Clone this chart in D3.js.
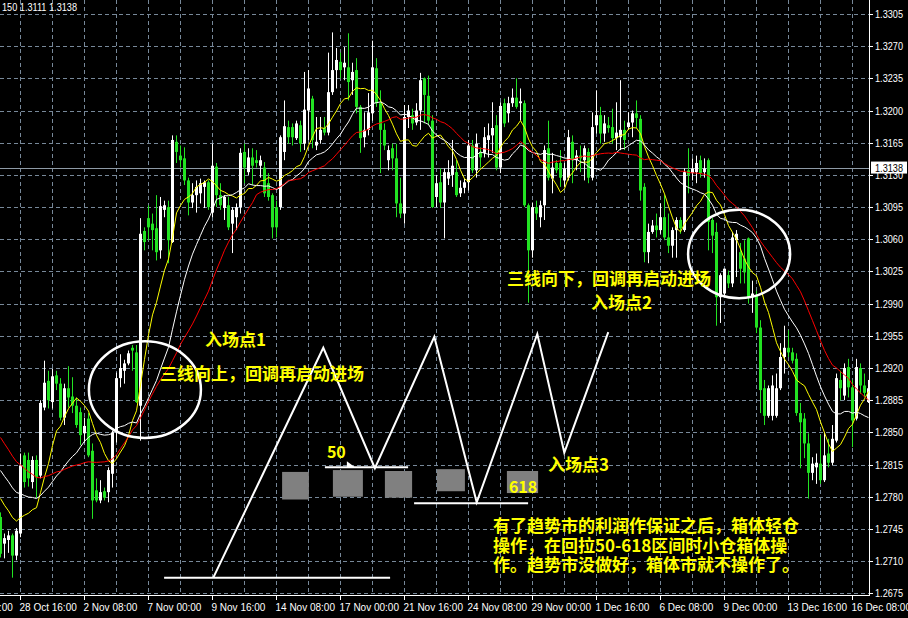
<!DOCTYPE html>
<html><head><meta charset="utf-8">
<script src="https://cdn.jsdelivr.net/npm/d3@7"></script>
<style>
html,body{margin:0;padding:0;background:#000;}
svg{display:block;}
</style></head><body>
<svg id="chart" width="908" height="618"></svg>
<script>
// ---- data (H4 bars, EURUSD-like) ----
const open = [1.2758,1.2729,1.2733,1.2738,1.2716,1.2740,1.2825,1.2820,1.2796,1.2820,
1.2803,1.2877,1.2906,1.2883,1.2912,1.2903,1.2866,1.2898,1.2889,1.2879,
1.2872,1.2849,1.2865,1.2830,1.2787,1.2776,1.2786,1.2785,1.2805,1.2850,
1.2909,1.2917,1.2925,1.2942,1.2937,1.2879,1.3069,1.3083,1.3077,1.3072,
1.3048,1.3092,1.3095,1.3057,1.3166,1.3151,1.3148,1.3124,1.3100,1.3108,
1.3110,1.3117,1.3122,1.3089,1.3139,1.3108,1.3094,1.3097,1.3077,1.3084,
1.3095,1.3155,1.3133,1.3149,1.3146,1.3140,1.3138,1.3121,1.3108,1.3095,
1.3095,1.3155,1.3182,1.3182,1.3170,1.3184,1.3164,1.3200,1.3213,1.3162,
1.3168,1.3181,1.3176,1.3220,1.3244,1.3253,1.3247,1.3247,1.3233,1.3244,
1.3204,1.3171,1.3179,1.3197,1.3246,1.3208,1.3179,1.3146,1.3159,1.3148,
1.3099,1.3088,1.3193,1.3195,1.3187,1.3200,1.3235,1.3216,1.3189,1.3106,
1.3122,1.3100,1.3126,1.3130,1.3133,1.3110,1.3116,1.3122,1.3162,1.3135,
1.3155,1.3154,1.3168,1.3173,1.3184,1.3138,1.3208,1.3197,1.3208,1.3214,
1.3208,1.3208,1.3097,1.3048,1.3095,1.3084,1.3097,1.3159,1.3126,1.3143,
1.3143,1.3124,1.3127,1.3166,1.3146,1.3151,1.3146,1.3155,1.3127,1.3184,
1.3195,1.3175,1.3184,1.3182,1.3170,1.3171,1.3179,1.3182,1.3187,1.3197,
1.3191,1.3117,1.3046,1.3068,1.3075,1.3070,1.3084,1.3062,1.3053,1.3070,
1.3081,1.3070,1.3135,1.3132,1.3133,1.3146,1.3133,1.3146,1.3081,1.3068,
1.2997,1.3001,1.3021,1.3012,1.3059,1.3046,1.3039,1.3061,1.2997,1.2999,
1.2964,1.2898,1.2868,1.2868,1.2868,1.2898,1.2932,1.2942,1.2937,1.2930,
1.2871,1.2865,1.2838,1.2806,1.2812,1.2816,1.2798,1.2827,1.2817,1.2841,
1.2907,1.2890,1.2921,1.2899,1.2865,1.2920,1.2901,1.2883];
const high = [1.2763,1.2740,1.2743,1.2740,1.2746,1.2827,1.2828,1.2828,1.2824,1.2825,
1.2885,1.2928,1.2917,1.2919,1.2917,1.2909,1.2903,1.2922,1.2910,1.2888,
1.2877,1.2866,1.2871,1.2838,1.2800,1.2798,1.2790,1.2812,1.2852,1.2915,
1.2935,1.2929,1.2939,1.2945,1.2945,1.3083,1.3073,1.3097,1.3088,1.3108,
1.3106,1.3102,1.3102,1.3173,1.3173,1.3162,1.3160,1.3127,1.3121,1.3124,
1.3126,1.3124,1.3124,1.3164,1.3143,1.3121,1.3108,1.3106,1.3095,1.3099,
1.3159,1.3164,1.3159,1.3159,1.3157,1.3151,1.3144,1.3132,1.3110,1.3102,
1.3173,1.3211,1.3189,1.3186,1.3189,1.3189,1.3242,1.3244,1.3216,1.3193,
1.3193,1.3193,1.3263,1.3285,1.3268,1.3263,1.3269,1.3284,1.3252,1.3257,
1.3206,1.3198,1.3219,1.3276,1.3257,1.3222,1.3186,1.3162,1.3164,1.3164,
1.3127,1.3206,1.3206,1.3202,1.3208,1.3241,1.3236,1.3238,1.3195,1.3130,
1.3137,1.3137,1.3146,1.3168,1.3146,1.3124,1.3126,1.3168,1.3168,1.3175,
1.3160,1.3182,1.3186,1.3209,1.3195,1.3209,1.3213,1.3215,1.3224,1.3235,
1.3224,1.3211,1.3099,1.3100,1.3102,1.3102,1.3162,1.3189,1.3154,1.3146,
1.3157,1.3143,1.3179,1.3173,1.3157,1.3162,1.3162,1.3159,1.3198,1.3222,
1.3204,1.3195,1.3193,1.3202,1.3209,1.3233,1.3189,1.3198,1.3200,1.3211,
1.3195,1.3121,1.3077,1.3081,1.3088,1.3099,1.3108,1.3088,1.3073,1.3084,
1.3084,1.3137,1.3159,1.3148,1.3151,1.3151,1.3148,1.3148,1.3083,1.3078,
1.3023,1.3028,1.3026,1.3068,1.3070,1.3056,1.3059,1.3062,1.3015,1.3004,
1.2972,1.2907,1.2901,1.2912,1.2914,1.2947,1.2966,1.2961,1.2942,1.2936,
1.2882,1.2871,1.2849,1.2823,1.2827,1.2847,1.2850,1.2843,1.2858,1.2914,
1.2917,1.2925,1.2930,1.2907,1.2930,1.2925,1.2914,1.2907];
const low = [1.2714,1.2713,1.2719,1.2692,1.2711,1.2736,1.2790,1.2791,1.2789,1.2779,
1.2800,1.2874,1.2876,1.2876,1.2896,1.2863,1.2858,1.2877,1.2871,1.2855,
1.2836,1.2839,1.2823,1.2756,1.2774,1.2773,1.2776,1.2774,1.2790,1.2839,
1.2899,1.2903,1.2923,1.2917,1.2882,1.2841,1.3048,1.3059,1.3048,1.3037,
1.3039,1.3084,1.3034,1.3056,1.3143,1.3138,1.3119,1.3086,1.3094,1.3089,
1.3099,1.3094,1.3092,1.3084,1.3095,1.3092,1.3081,1.3070,1.3045,1.3070,
1.3088,1.3121,1.3130,1.3119,1.3138,1.3127,1.3106,1.3102,1.3061,1.3062,
1.3092,1.3146,1.3164,1.3162,1.3168,1.3155,1.3157,1.3168,1.3159,1.3157,
1.3164,1.3173,1.3173,1.3217,1.3224,1.3235,1.3233,1.3211,1.3217,1.3197,
1.3154,1.3160,1.3173,1.3189,1.3204,1.3132,1.3157,1.3135,1.3135,1.3084,
1.3083,1.3077,1.3181,1.3179,1.3184,1.3179,1.3186,1.3184,1.3094,1.3095,
1.3094,1.3061,1.3119,1.3117,1.3106,1.3106,1.3110,1.3113,1.3132,1.3127,
1.3138,1.3149,1.3149,1.3154,1.3135,1.3132,1.3182,1.3187,1.3204,1.3202,
1.3189,1.3095,1.2991,1.3040,1.3081,1.3073,1.3081,1.3124,1.3110,1.3132,
1.3117,1.3117,1.3124,1.3121,1.3135,1.3133,1.3124,1.3121,1.3124,1.3175,
1.3164,1.3166,1.3176,1.3164,1.3157,1.3157,1.3157,1.3179,1.3171,1.3181,
1.3102,1.3035,1.3034,1.3066,1.3062,1.3066,1.3059,1.3045,1.3040,1.3040,
1.3066,1.3068,1.3110,1.3124,1.3121,1.3127,1.3127,1.3048,1.3045,1.2966,
1.2969,1.2999,1.3007,1.3008,1.3019,1.3012,1.3012,1.2990,1.2980,1.2958,
1.2871,1.2858,1.2866,1.2863,1.2866,1.2896,1.2914,1.2932,1.2925,1.2868,
1.2811,1.2822,1.2778,1.2798,1.2794,1.2794,1.2796,1.2812,1.2814,1.2839,
1.2885,1.2885,1.2888,1.2834,1.2863,1.2892,1.2888,1.2882];
const close = [1.2718,1.2735,1.2738,1.2716,1.2743,1.2814,1.2796,1.2800,1.2820,1.2801,
1.2882,1.2904,1.2885,1.2911,1.2903,1.2866,1.2898,1.2888,1.2879,1.2858,
1.2847,1.2857,1.2825,1.2776,1.2776,1.2785,1.2779,1.2809,1.2850,1.2909,
1.2920,1.2925,1.2936,1.2939,1.2883,1.3066,1.3057,1.3073,1.3070,1.3046,
1.3096,1.3097,1.3059,1.3168,1.3155,1.3146,1.3124,1.3100,1.3108,1.3117,
1.3121,1.3122,1.3095,1.3140,1.3108,1.3097,1.3106,1.3073,1.3092,1.3095,
1.3154,1.3138,1.3149,1.3140,1.3143,1.3146,1.3110,1.3106,1.3073,1.3073,
1.3171,1.3183,1.3171,1.3171,1.3186,1.3164,1.3201,1.3224,1.3168,1.3166,
1.3179,1.3176,1.3220,1.3244,1.3255,1.3244,1.3252,1.3231,1.3242,1.3204,
1.3170,1.3179,1.3198,1.3247,1.3208,1.3179,1.3162,1.3157,1.3148,1.3099,
1.3088,1.3193,1.3200,1.3186,1.3200,1.3233,1.3217,1.3189,1.3095,1.3121,
1.3100,1.3133,1.3133,1.3140,1.3108,1.3116,1.3122,1.3162,1.3135,1.3164,
1.3149,1.3171,1.3173,1.3181,1.3138,1.3205,1.3186,1.3208,1.3214,1.3204,
1.3210,1.3097,1.3048,1.3095,1.3088,1.3097,1.3157,1.3127,1.3138,1.3135,
1.3127,1.3137,1.3171,1.3146,1.3151,1.3148,1.3159,1.3127,1.3182,1.3195,
1.3175,1.3186,1.3181,1.3170,1.3176,1.3179,1.3168,1.3187,1.3197,1.3192,
1.3113,1.3046,1.3068,1.3075,1.3070,1.3084,1.3062,1.3053,1.3070,1.3081,
1.3072,1.3133,1.3130,1.3137,1.3143,1.3132,1.3137,1.3079,1.3064,1.2997,
1.3021,1.3028,1.3012,1.3062,1.3066,1.3028,1.3024,1.2997,1.3001,1.2964,
1.2896,1.2868,1.2898,1.2901,1.2898,1.2932,1.2942,1.2937,1.2928,1.2871,
1.2861,1.2838,1.2806,1.2816,1.2817,1.2798,1.2825,1.2817,1.2843,1.2909,
1.2898,1.2920,1.2899,1.2863,1.2921,1.2901,1.2893,1.2898];
// closes of the 29 bars just before the first visible bar (estimated from the MA levels at the left edge)
const historyCloses = [1.2939,1.2934,1.2928,1.2923,1.2917,1.2912,1.2909,1.2904,1.2901,1.2896,
1.2863,1.2854,1.2850,1.2843,1.2841,1.2836,1.2833,1.2828,1.2825,1.2817,
1.2809,1.2798,1.2789,1.2781,1.2776,1.2771,1.2778,1.2781,1.2780];
const maPeriods = [10, 20, 30];
const maColors = ["#ffff00", "#ffffff", "#ff0000"];
const priceTicks = [1.2675,1.2710,1.2745,1.2780,1.2815,1.2850,1.2885,1.2920,1.2955,1.2990,
1.3025,1.3060,1.3095,1.3130,1.3165,1.3200,1.3235,1.3270,1.3305];
const timeLabels = ["26 Oct 00:00","28 Oct 16:00","2 Nov 08:00","7 Nov 00:00","9 Nov 16:00",
"14 Nov 08:00","17 Nov 00:00","21 Nov 16:00","24 Nov 08:00","29 Nov 00:00","1 Dec 16:00",
"6 Dec 08:00","9 Dec 00:00","13 Dec 16:00","16 Dec 08:00"];
const timeLabelBars = [-11,5,21,37,53,69,85,101,117,133,149,165,181,197,213];
const gridBars = [-3,5,13,21,29,37,45,53,61,69,77,85,93,101,109,117,125,133,141,149,157,165,173,181,189,197,205,213];
const currentPrice = 1.3138;
const headerText = "150 1.3111 1.3138";

// drawn objects (bar index, price)
const zigzag = [[53.2,1.2692],[80.7,1.2942],[93.6,1.2811],[108.45,1.2954],[119.05,1.2774],[134.2,1.2957],[140.95,1.2828],[151.95,1.2959]];
const hLines = [[40.9,97.4,1.2692],[81.1,101.9,1.2812],[103.4,131.9,1.2773]];
const arrowMark = [87.6, 1.2812];
const boxes = [[70.4,77.1,1.2807,1.2777],[83.1,90.6,1.2809,1.2780],[96.1,102.9,1.2808,1.2779],[109.1,116.1,1.2810,1.2786],[126.6,134.4,1.2808,1.2784]];
const ellipses = [[22.1,50.1,1.2949,1.2844],[171.9,197.4,1.3092,1.2996]];
const labels = [
  {t:"入场点1", k:51.1, p:1.2944, s:17},
  {t:"三线向上，回调再启动进场", k:39.9, p:1.2907, s:17},
  {t:"三线向下，回调再启动进场", k:126.6, p:1.3010, s:17},
  {t:"入场点2", k:147.6, p:1.2984, s:17},
  {t:"入场点3", k:136.9, p:1.2808, s:17},
  {t:"50", k:81.6, p:1.2822, s:16},
  {t:"618", k:127.1, p:1.2784, s:16},
  {t:"有了趋势市的利润作保证之后，箱体轻仓", k:123.1, p:1.2742, s:17},
  {t:"操作，在回拉50-618区间时小仓箱体操", k:123.1, p:1.2720, s:17},
  {t:"作。趋势市没做好，箱体市就不操作了。", k:123.1, p:1.2699, s:17}
];

// ---- drawing ----
const W = 908, H = 618, PR = 869, PB = 596;
const svg = d3.select("#chart");
const x = d3.scaleLinear().domain([0, 217]).range([0.5, 868.5]);
const y = d3.scaleLinear().domain([1.2675, 1.3305]).range([593.3, 14]);
const axisFont = "'Liberation Sans', Arial, sans-serif";
const cjkFont = "'Noto Sans CJK SC', 'Noto Sans', sans-serif";

svg.append("rect").attr("width", W).attr("height", H).attr("fill", "#000");
svg.append("defs").append("clipPath").attr("id", "plot")
  .append("rect").attr("x", 0).attr("y", 0).attr("width", PR).attr("height", PB);
const plot = svg.append("g").attr("clip-path", "url(#plot)");

// grid
const grid = plot.append("g").attr("stroke", "#778899").attr("stroke-width", 1).attr("stroke-dasharray", "4,3");
grid.selectAll("line.h").data(priceTicks).join("line")
  .attr("x1", 0).attr("x2", PR).attr("y1", d => Math.round(y(d)) + 0.5).attr("y2", d => Math.round(y(d)) + 0.5);
grid.selectAll("line.v").data(gridBars).join("line")
  .attr("x1", d => x(d)).attr("x2", d => x(d)).attr("y1", 0).attr("y2", PB);

// current price line
plot.append("line").attr("x1", 0).attr("x2", PR)
  .attr("y1", Math.round(y(currentPrice)) + 0.5).attr("y2", Math.round(y(currentPrice)) + 0.5)
  .attr("stroke", "#8e9aa6").attr("stroke-width", 1);

// candles
const bars = d3.range(open.length);
const bull = i => close[i] >= open[i];
const green = "#22e322";
const cg = plot.append("g");
cg.selectAll("rect.w").data(bars).join("rect")
  .attr("x", i => x(i) - 0.5).attr("width", 1)
  .attr("y", i => y(high[i])).attr("height", i => Math.max(1, y(low[i]) - y(high[i])))
  .attr("fill", i => bull(i) ? "#fff" : green);
cg.selectAll("rect.b").data(bars).join("rect")
  .attr("x", i => x(i) - 1.5).attr("width", 3)
  .attr("y", i => y(Math.max(open[i], close[i])))
  .attr("height", i => Math.max(1, Math.abs(y(open[i]) - y(close[i]))))
  .attr("fill", i => bull(i) ? "#fff" : green);

// moving averages
const allCloses = historyCloses.concat(close);
const off = historyCloses.length;
maPeriods.forEach((p, j) => {
  const vals = bars.map(i => d3.mean(allCloses.slice(i + off - p + 1, i + off + 1)));
  plot.append("path").datum(vals)
    .attr("d", d3.line().x((d, i) => x(i)).y(d => y(d)))
    .attr("fill", "none").attr("stroke", maColors[j]).attr("stroke-width", 1);
});

// drawn objects
const ann = plot.append("g");
ann.selectAll("rect.box").data(boxes).join("rect")
  .attr("x", d => x(d[0])).attr("width", d => x(d[1]) - x(d[0]))
  .attr("y", d => y(d[2])).attr("height", d => y(d[3]) - y(d[2]))
  .attr("fill", "#808080");
ann.selectAll("line.hl").data(hLines).join("line")
  .attr("x1", d => x(d[0])).attr("x2", d => x(d[1]))
  .attr("y1", d => y(d[2])).attr("y2", d => y(d[2]))
  .attr("stroke", "#fff").attr("stroke-width", 2);
ann.append("path").datum(zigzag)
  .attr("d", d3.line().x(d => x(d[0])).y(d => y(d[1])))
  .attr("fill", "none").attr("stroke", "#fff").attr("stroke-width", 2);
{
  const ax = x(arrowMark[0]), ay = y(arrowMark[1]);
  ann.append("path").attr("d", `M${ax-4},${ay-6}L${ax+4},${ay}L${ax-4},${ay}Z`).attr("fill", "#fff");
}
ann.selectAll("ellipse").data(ellipses).join("ellipse")
  .attr("cx", d => (x(d[0]) + x(d[1])) / 2).attr("cy", d => (y(d[2]) + y(d[3])) / 2)
  .attr("rx", d => (x(d[1]) - x(d[0])) / 2).attr("ry", d => (y(d[3]) - y(d[2])) / 2)
  .attr("fill", "none").attr("stroke", "#fff").attr("stroke-width", 2.5);
ann.selectAll("text").data(labels).join("text")
  .attr("x", d => x(d.k)).attr("y", d => y(d.p))
  .attr("font-family", cjkFont).attr("font-size", d => d.s).attr("font-weight", "bold")
  .attr("fill", "#ffff00").text(d => d.t);

// axes
svg.append("line").attr("x1", PR + 0.5).attr("x2", PR + 0.5).attr("y1", 0).attr("y2", PB).attr("stroke", "#fff");
svg.append("line").attr("x1", 0).attr("x2", PR + 1).attr("y1", PB - 0.5).attr("y2", PB - 0.5).attr("stroke", "#fff");
const ya = svg.append("g");
ya.selectAll("line").data(priceTicks).join("line")
  .attr("x1", PR).attr("x2", PR + 4)
  .attr("y1", d => Math.round(y(d)) + 0.5).attr("y2", d => Math.round(y(d)) + 0.5).attr("stroke", "#fff");
ya.selectAll("text").data(priceTicks).join("text")
  .attr("x", PR + 6).attr("y", d => y(d) + 4)
  .attr("font-family", axisFont).attr("font-size", 11).attr("fill", "#fff")
  .attr("textLength", 28).attr("lengthAdjust", "spacingAndGlyphs")
  .text(d => d.toFixed(4));
// current price tag
svg.append("rect").attr("x", PR + 2).attr("y", y(currentPrice) - 6).attr("width", 36).attr("height", 12).attr("fill", "#fff");
svg.append("text").attr("x", PR + 6).attr("y", y(currentPrice) + 4)
  .attr("font-family", axisFont).attr("font-size", 11).attr("fill", "#000")
  .attr("textLength", 28).attr("lengthAdjust", "spacingAndGlyphs")
  .text(currentPrice.toFixed(4));

const xa = svg.append("g");
xa.selectAll("line").data(timeLabelBars).join("line")
  .attr("x1", d => x(d)).attr("x2", d => x(d)).attr("y1", PB).attr("y2", PB + 4).attr("stroke", "#fff");
xa.selectAll("text").data(timeLabels).join("text")
  .attr("x", (d, i) => x(timeLabelBars[i]) - 1).attr("y", 611)
  .attr("font-family", axisFont).attr("font-size", 10).attr("fill", "#fff").text(d => d);

svg.append("text").attr("x", 2).attr("y", 11)
  .attr("font-family", axisFont).attr("font-size", 11).attr("fill", "#fff")
  .attr("textLength", 75).attr("lengthAdjust", "spacingAndGlyphs")
  .text(headerText);
</script>
</body></html>
